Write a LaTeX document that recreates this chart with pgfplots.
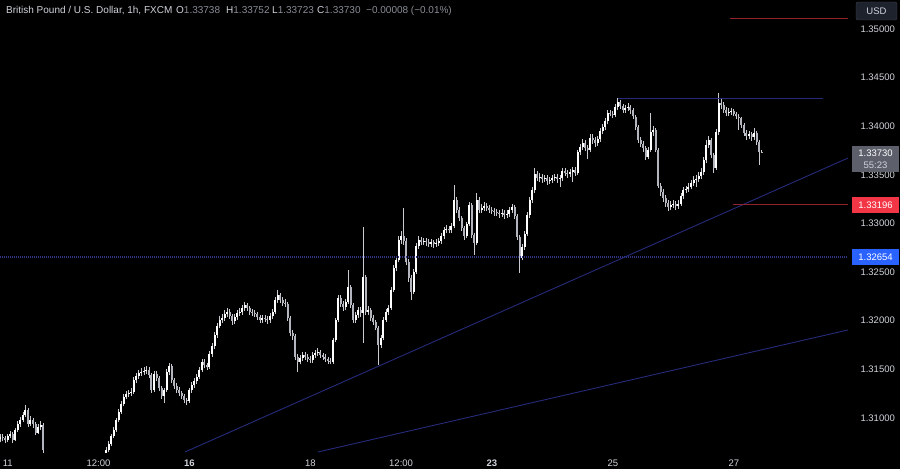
\documentclass[border=0pt]{standalone}
\usepackage{fontspec}
\setmainfont{Liberation Sans}
\usepackage{pgfplots}
\usepackage{pgfplotstable}
\pgfplotsset{compat=1.18}
\definecolor{txt}{HTML}{D1D4DC}
\definecolor{dim}{HTML}{8A8D96}
\definecolor{upc}{HTML}{FFFFFF}
\definecolor{dnc}{HTML}{B2B5BE}
\definecolor{wick}{HTML}{C8CAD0}
\definecolor{tl}{HTML}{252B7A}
\definecolor{tld}{HTML}{2E3580}
\definecolor{lred}{HTML}{92222A}
\definecolor{tvred}{HTML}{F23645}
\definecolor{tvblue}{HTML}{2962FF}
\definecolor{tvgrey}{HTML}{5D606B}
\definecolor{usdbox}{HTML}{1E222D}

\pgfplotstableread{
t O H L C
-3 1.3078 1.3083 1.3075 1.3080
-2 1.3080 1.3083 1.3076 1.3079
-1 1.3079 1.3081 1.3074 1.3077
0 1.3077 1.3084 1.3075 1.3081
1 1.3081 1.3087 1.3079 1.3084
2 1.3084 1.3086 1.3074 1.3077
3 1.3077 1.3090 1.3076 1.3088
4 1.3088 1.3097 1.3086 1.3094
5 1.3094 1.3101 1.3091 1.3098
6 1.3098 1.3106 1.3096 1.3103
7 1.3103 1.3113 1.3101 1.3108
8 1.3108 1.3110 1.3091 1.3094
9 1.3094 1.3102 1.3092 1.3098
10 1.3098 1.3100 1.3090 1.3094
11 1.3094 1.3096 1.3082 1.3085
12 1.3085 1.3094 1.3083 1.3091
13 1.3091 1.3097 1.3088 1.3093
14 1.3093 1.3095 1.3062 1.3067
39 1.3062 1.3070 1.3059 1.3067
40 1.3067 1.3076 1.3065 1.3073
41 1.3073 1.3083 1.3071 1.3081
42 1.3081 1.3091 1.3079 1.3088
43 1.3088 1.3100 1.3086 1.3098
44 1.3098 1.3109 1.3096 1.3106
45 1.3106 1.3117 1.3104 1.3114
46 1.3114 1.3125 1.3112 1.3122
47 1.3122 1.3128 1.3119 1.3125
48 1.3125 1.3129 1.3122 1.3126
49 1.3126 1.3131 1.3123 1.3127
50 1.3127 1.3142 1.3125 1.3139
51 1.3139 1.3146 1.3136 1.3143
52 1.3143 1.3149 1.3140 1.3146
53 1.3146 1.3151 1.3143 1.3147
54 1.3147 1.3152 1.3144 1.3148
55 1.3148 1.3153 1.3145 1.3149
56 1.3149 1.3152 1.3141 1.3144
57 1.3144 1.3146 1.3126 1.3129
58 1.3129 1.3148 1.3127 1.3145
59 1.3145 1.3148 1.3138 1.3141
60 1.3141 1.3143 1.3128 1.3131
61 1.3131 1.3133 1.3120 1.3123
62 1.3123 1.3131 1.3115 1.3129
63 1.3129 1.3150 1.3127 1.3147
64 1.3147 1.3157 1.3144 1.3153
65 1.3153 1.3155 1.3136 1.3139
66 1.3139 1.3141 1.3130 1.3133
67 1.3133 1.3136 1.3126 1.3129
68 1.3129 1.3132 1.3123 1.3126
69 1.3126 1.3128 1.3120 1.3123
70 1.3123 1.3125 1.3115 1.3118
71 1.3118 1.3121 1.3113 1.3117
72 1.3117 1.3131 1.3115 1.3129
73 1.3129 1.3137 1.3126 1.3134
74 1.3134 1.3141 1.3131 1.3138
75 1.3138 1.3145 1.3135 1.3142
76 1.3142 1.3152 1.3140 1.3149
77 1.3149 1.3161 1.3147 1.3158
78 1.3158 1.3161 1.3151 1.3154
79 1.3154 1.3157 1.3149 1.3152
80 1.3152 1.3169 1.3150 1.3166
81 1.3166 1.3177 1.3163 1.3174
82 1.3174 1.3188 1.3171 1.3185
83 1.3185 1.3198 1.3182 1.3195
84 1.3195 1.3205 1.3192 1.3201
85 1.3201 1.3207 1.3198 1.3203
86 1.3203 1.3211 1.3200 1.3207
87 1.3207 1.3213 1.3204 1.3209
88 1.3209 1.3212 1.3202 1.3205
89 1.3205 1.3207 1.3196 1.3200
90 1.3200 1.3207 1.3197 1.3204
91 1.3204 1.3211 1.3201 1.3208
92 1.3208 1.3213 1.3205 1.3209
93 1.3209 1.3216 1.3206 1.3213
94 1.3213 1.3219 1.3210 1.3216
95 1.3216 1.3218 1.3210 1.3213
96 1.3213 1.3215 1.3206 1.3209
97 1.3209 1.3212 1.3205 1.3208
98 1.3208 1.3211 1.3204 1.3207
99 1.3207 1.3209 1.3201 1.3204
100 1.3204 1.3206 1.3198 1.3201
101 1.3201 1.3206 1.3198 1.3203
102 1.3203 1.3206 1.3199 1.3202
103 1.3202 1.3205 1.3197 1.3201
104 1.3201 1.3208 1.3198 1.3205
105 1.3205 1.3212 1.3202 1.3209
106 1.3209 1.3224 1.3207 1.3221
107 1.3221 1.3232 1.3218 1.3226
108 1.3226 1.3229 1.3218 1.3221
109 1.3221 1.3224 1.3215 1.3218
110 1.3218 1.3222 1.3214 1.3217
111 1.3217 1.3219 1.3200 1.3203
112 1.3203 1.3205 1.3184 1.3187
113 1.3187 1.3190 1.3180 1.3184
114 1.3184 1.3186 1.3160 1.3163
115 1.3163 1.3166 1.3147 1.3158
116 1.3158 1.3165 1.3155 1.3162
117 1.3162 1.3168 1.3159 1.3165
118 1.3165 1.3168 1.3160 1.3163
119 1.3163 1.3166 1.3158 1.3161
120 1.3161 1.3164 1.3157 1.3160
121 1.3160 1.3168 1.3157 1.3165
122 1.3165 1.3170 1.3162 1.3167
123 1.3167 1.3172 1.3164 1.3168
124 1.3168 1.3170 1.3162 1.3165
125 1.3165 1.3167 1.3160 1.3163
126 1.3163 1.3166 1.3158 1.3161
127 1.3161 1.3163 1.3156 1.3159
128 1.3159 1.3162 1.3155 1.3158
129 1.3158 1.3182 1.3156 1.3180
130 1.3180 1.3203 1.3178 1.3201
131 1.3201 1.3226 1.3199 1.3223
132 1.3223 1.3226 1.3214 1.3217
133 1.3217 1.3220 1.3210 1.3214
134 1.3214 1.3222 1.3211 1.3219
135 1.3219 1.3252 1.3217 1.3235
136 1.3235 1.3237 1.3213 1.3216
137 1.3216 1.3218 1.3198 1.3201
138 1.3201 1.3209 1.3198 1.3206
139 1.3206 1.3214 1.3203 1.3211
140 1.3211 1.3214 1.3204 1.3208
141 1.3208 1.3296 1.3177 1.3245
142 1.3245 1.3247 1.3206 1.3209
143 1.3209 1.3215 1.3206 1.3211
144 1.3211 1.3213 1.3200 1.3203
145 1.3203 1.3206 1.3196 1.3199
146 1.3199 1.3201 1.3190 1.3193
147 1.3193 1.3195 1.3154 1.3175
148 1.3175 1.3185 1.3172 1.3182
149 1.3182 1.3204 1.3180 1.3201
150 1.3201 1.3212 1.3199 1.3209
151 1.3209 1.3216 1.3206 1.3213
152 1.3213 1.3235 1.3211 1.3232
153 1.3232 1.3257 1.3230 1.3254
154 1.3254 1.3266 1.3251 1.3262
155 1.3262 1.3287 1.3260 1.3283
156 1.3283 1.3292 1.3279 1.3287
157 1.3287 1.3316 1.3278 1.3282
158 1.3282 1.3285 1.3257 1.3260
159 1.3260 1.3263 1.3240 1.3244
160 1.3244 1.3247 1.3221 1.3230
161 1.3230 1.3253 1.3227 1.3250
162 1.3250 1.3280 1.3248 1.3277
163 1.3277 1.3287 1.3274 1.3283
164 1.3283 1.3286 1.3278 1.3281
165 1.3281 1.3285 1.3278 1.3282
166 1.3282 1.3285 1.3277 1.3281
167 1.3281 1.3284 1.3276 1.3279
168 1.3279 1.3284 1.3276 1.3281
169 1.3281 1.3283 1.3275 1.3279
170 1.3279 1.3284 1.3276 1.3280
171 1.3280 1.3285 1.3277 1.3282
172 1.3282 1.3290 1.3279 1.3287
173 1.3287 1.3296 1.3284 1.3293
174 1.3293 1.3298 1.3290 1.3294
175 1.3294 1.3297 1.3290 1.3293
176 1.3293 1.3300 1.3290 1.3297
177 1.3297 1.3340 1.3295 1.3324
178 1.3324 1.3327 1.3311 1.3314
179 1.3314 1.3317 1.3303 1.3306
180 1.3306 1.3308 1.3292 1.3295
181 1.3295 1.3297 1.3283 1.3287
182 1.3287 1.3302 1.3285 1.3299
183 1.3299 1.3322 1.3297 1.3319
184 1.3319 1.3321 1.3285 1.3288
185 1.3288 1.3290 1.3268 1.3280
186 1.3280 1.3331 1.3278 1.3324
187 1.3324 1.3327 1.3311 1.3314
188 1.3314 1.3320 1.3311 1.3316
189 1.3316 1.3322 1.3313 1.3318
190 1.3318 1.3321 1.3313 1.3316
191 1.3316 1.3319 1.3311 1.3314
192 1.3314 1.3317 1.3310 1.3313
193 1.3313 1.3316 1.3308 1.3312
194 1.3312 1.3315 1.3308 1.3311
195 1.3311 1.3314 1.3306 1.3310
196 1.3310 1.3315 1.3307 1.3311
197 1.3311 1.3314 1.3305 1.3309
198 1.3309 1.3314 1.3306 1.3310
199 1.3310 1.3317 1.3307 1.3314
200 1.3314 1.3320 1.3311 1.3317
201 1.3317 1.3319 1.3305 1.3308
202 1.3308 1.3310 1.3283 1.3286
203 1.3286 1.3288 1.3249 1.3265
204 1.3265 1.3279 1.3262 1.3276
205 1.3276 1.3292 1.3273 1.3289
206 1.3289 1.3312 1.3287 1.3309
207 1.3309 1.3327 1.3306 1.3324
208 1.3324 1.3337 1.3321 1.3334
209 1.3334 1.3357 1.3331 1.3351
210 1.3351 1.3354 1.3344 1.3347
211 1.3347 1.3352 1.3343 1.3348
212 1.3348 1.3351 1.3342 1.3346
213 1.3346 1.3350 1.3343 1.3347
214 1.3347 1.3350 1.3340 1.3344
215 1.3344 1.3348 1.3341 1.3345
216 1.3345 1.3350 1.3342 1.3347
217 1.3347 1.3351 1.3344 1.3348
218 1.3348 1.3351 1.3342 1.3346
219 1.3346 1.3350 1.3338 1.3347
220 1.3347 1.3357 1.3344 1.3354
221 1.3354 1.3357 1.3349 1.3352
222 1.3352 1.3355 1.3347 1.3351
223 1.3351 1.3356 1.3348 1.3353
224 1.3353 1.3358 1.3343 1.3355
225 1.3355 1.3358 1.3349 1.3352
226 1.3352 1.3376 1.3350 1.3373
227 1.3373 1.3382 1.3370 1.3379
228 1.3379 1.3387 1.3376 1.3383
229 1.3383 1.3386 1.3375 1.3378
230 1.3378 1.3381 1.3366 1.3376
231 1.3376 1.3392 1.3373 1.3388
232 1.3388 1.3392 1.3382 1.3386
233 1.3386 1.3389 1.3379 1.3383
234 1.3383 1.3390 1.3380 1.3387
235 1.3387 1.3398 1.3384 1.3395
236 1.3395 1.3402 1.3392 1.3399
237 1.3399 1.3408 1.3396 1.3405
238 1.3405 1.3417 1.3402 1.3414
239 1.3414 1.3417 1.3410 1.3413
240 1.3413 1.3416 1.3408 1.3412
241 1.3412 1.3423 1.3409 1.3420
242 1.3420 1.3429 1.3417 1.3425
243 1.3425 1.3427 1.3418 1.3421
244 1.3421 1.3423 1.3414 1.3417
245 1.3417 1.3422 1.3414 1.3419
246 1.3419 1.3424 1.3416 1.3420
247 1.3420 1.3422 1.3413 1.3417
248 1.3417 1.3419 1.3407 1.3410
249 1.3410 1.3412 1.3396 1.3399
250 1.3399 1.3401 1.3383 1.3386
251 1.3386 1.3389 1.3379 1.3382
252 1.3382 1.3385 1.3374 1.3378
253 1.3378 1.3380 1.3365 1.3368
254 1.3368 1.3379 1.3366 1.3376
255 1.3376 1.3414 1.3374 1.3394
256 1.3394 1.3400 1.3390 1.3396
257 1.3396 1.3398 1.3373 1.3376
258 1.3376 1.3378 1.3336 1.3339
259 1.3339 1.3342 1.3328 1.3332
260 1.3332 1.3335 1.3322 1.3326
261 1.3326 1.3329 1.3317 1.3321
262 1.3321 1.3324 1.3313 1.3317
263 1.3317 1.3323 1.3314 1.3319
264 1.3319 1.3324 1.3316 1.3320
265 1.3320 1.3323 1.3314 1.3318
266 1.3318 1.3324 1.3315 1.3320
267 1.3320 1.3331 1.3318 1.3328
268 1.3328 1.3337 1.3325 1.3334
269 1.3334 1.3339 1.3331 1.3335
270 1.3335 1.3342 1.3332 1.3338
271 1.3338 1.3345 1.3335 1.3342
272 1.3342 1.3349 1.3339 1.3345
273 1.3345 1.3350 1.3337 1.3346
274 1.3346 1.3353 1.3343 1.3349
275 1.3349 1.3357 1.3346 1.3353
276 1.3353 1.3368 1.3350 1.3365
277 1.3365 1.3386 1.3362 1.3381
278 1.3381 1.3390 1.3378 1.3386
279 1.3386 1.3388 1.3367 1.3370
280 1.3370 1.3372 1.3352 1.3357
281 1.3357 1.3397 1.3355 1.3394
282 1.3394 1.3434 1.3391 1.3424
283 1.3424 1.3428 1.3418 1.3422
284 1.3422 1.3425 1.3414 1.3417
285 1.3417 1.3420 1.3410 1.3414
286 1.3414 1.3419 1.3411 1.3415
287 1.3415 1.3419 1.3412 1.3416
288 1.3416 1.3418 1.3410 1.3413
289 1.3413 1.3415 1.3407 1.3410
290 1.3410 1.3413 1.3396 1.3408
291 1.3408 1.3410 1.3398 1.3401
292 1.3401 1.3403 1.3390 1.3393
293 1.3393 1.3396 1.3386 1.3390
294 1.3390 1.3395 1.3387 1.3392
295 1.3392 1.3394 1.3385 1.3389
296 1.3389 1.3398 1.3386 1.3393
297 1.3393 1.3395 1.3381 1.3384
298 1.3384 1.3386 1.3360 1.33738
299 1.33738 1.33752 1.33723 1.33730
}\candles

\begin{document}
\begin{tikzpicture}[x=1pt,y=1pt]
\useasboundingbox (0,0) rectangle (900,469);
\fill[black] (0,0) rectangle (900,469);
\begin{axis}[
  at={(0pt,17pt)}, anchor=south west,
  width=848pt, height=452pt, scale only axis,
  xmin=-3.094, xmax=333.28, ymin=1.30650, ymax=1.35298,
  clip mode=individual,
  axis line style={draw=none},
  major tick length=0pt,
  yticklabel pos=right,
  ytick={1.31,1.315,1.32,1.325,1.33,1.335,1.34,1.345,1.35},
  yticklabels={1.31000,1.31500,1.32000,1.32500,1.33000,1.33500,1.34000,1.34500,1.35000},
  yticklabel style={font=\fontsize{9.5}{11}\selectfont, text=txt, anchor=west, xshift=9pt},
  xtick={0,36,72,120,156,192,240,288},
  xticklabels={11,12:00,\textbf{16},18,12:00,\textbf{23},25,27},
  xticklabel style={font=\fontsize{9.5}{11}\selectfont, text=txt, anchor=base, yshift=-14.5pt},
]
% wicks
\addplot[draw=none, mark=none, forget plot,
  error bars/.cd, y dir=plus, y explicit, error mark=none,
  error bar style={draw=wick, line width=0.8pt}]
  table[x=t, y=L, y error plus expr={\thisrow{H}-\thisrow{L}}] {\candles};
% up bodies
\addplot[draw=none, mark=none, forget plot,
  error bars/.cd, y dir=plus, y explicit, error mark=none,
  error bar style={draw=upc, line width=2pt}]
  table[x=t, y=O, y error plus expr={max(\thisrow{C}-\thisrow{O},0)}] {\candles};
% down bodies
\addplot[draw=none, mark=none, forget plot,
  error bars/.cd, y dir=plus, y explicit, error mark=none,
  error bar style={draw=dnc, line width=2pt}]
  table[x=t, y=C, y error plus expr={max(\thisrow{O}-\thisrow{C},0)}] {\candles};
% trend lines and levels
\addplot[tl, line width=0.9pt] coordinates {(70.29,1.30650) (333.28,1.33673)};
\addplot[tl, line width=0.9pt] coordinates {(123.0,1.30650) (333.28,1.31905)};
\addplot[tl, line width=0.9pt] coordinates {(242.1,1.3429) (323.4,1.3429)};
\addplot[lred, line width=1pt] coordinates {(286.5,1.3511) (333.28,1.3511)};
\addplot[lred, line width=1pt] coordinates {(287.7,1.33196) (333.28,1.33196)};
\addplot[tld, line width=1.6pt, dash pattern=on 1pt off 1pt] coordinates {(-3.094,1.32654) (333.28,1.32654)};
\end{axis}
% header
\begin{scope}[font=\fontsize{10}{12}\selectfont]
\node[anchor=base west, inner sep=0, text=txt] at (6,455) {British Pound / U.S. Dollar, 1h, FXCM};
\node[anchor=base west, inner sep=0, text=txt] at (176,455) {O\textcolor{dim}{1.33738}};
\node[anchor=base west, inner sep=0, text=txt] at (226,455) {H\textcolor{dim}{1.33752}};
\node[anchor=base west, inner sep=0, text=txt] at (272,455) {L\textcolor{dim}{1.33723}};
\node[anchor=base west, inner sep=0, text=txt] at (317,455) {C\textcolor{dim}{1.33730}};
\node[anchor=base west, inner sep=0, text=dim] at (366,455) {\textminus0.00008 (\textminus0.01\%)};
\end{scope}
% price scale boxes
\begin{scope}[font=\fontsize{9.5}{11}\selectfont]
\draw[fill=usdbox, draw=tvgrey!70!black, rounded corners=2pt] (856,449) rectangle (897,467);
\node[text=txt] at (876.5,458) {USD};
\fill[tvgrey] (852,297) rectangle (899,323);
\node[text=white] at (875.5,316) {1.33730};
\node[text=txt] at (875.5,304) {55:23};
\fill[tvred] (852,256) rectangle (899,272);
\node[text=white] at (875.5,264) {1.33196};
\fill[tvblue] (852,204) rectangle (899,220);
\node[text=white] at (875.5,212) {1.32654};
\end{scope}
\end{tikzpicture}
\end{document}
